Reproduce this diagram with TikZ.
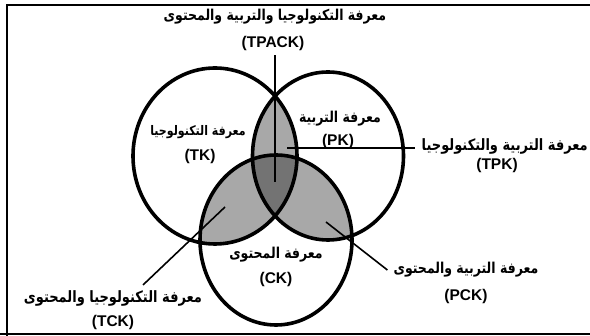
\documentclass[tikz,border=0pt]{standalone}
\usepackage{graphicx}
\usepackage{fontspec}
\setmainfont{Liberation Sans}
\newfontfamily\arabicfont[Script=Arabic]{DejaVu Sans}
\TeXXeTstate=1
\newcommand\artext[1]{\scalebox{1}[1.2]{\beginR #1\endR}}
\definecolor{lightshade}{RGB}{168,168,168}
\definecolor{darkshade}{RGB}{115,115,115}
\begin{document}
\begin{tikzpicture}[x=1pt,y=-1pt,
  ring/.style={line width=3.6pt},
  leader/.style={line width=2.3pt},
  thinleader/.style={line width=1.6pt},
  arlabel/.style={inner sep=0pt,font=\arabicfont\bfseries\fontsize{12.5}{14}\selectfont},
  latlabel/.style={inner sep=0pt,font=\bfseries\fontsize{15.5}{17}\selectfont}]
\useasboundingbox (0,0) rectangle (590,336);
\clip (0,0) rectangle (590,336);
\fill[white] (0,0) rectangle (590,336);
% frame
\draw[line width=2.6pt] (7,345) -- (7,5) -- (600,5);
\draw[line width=1.8pt] (0,334) -- (600,334);
% shading
\def\Lc{(215,156) ellipse [x radius=82pt, y radius=88pt]}
\def\Rc{(328,156) ellipse [x radius=75.5pt, y radius=84pt]}
\def\Bc{(276,240) ellipse [x radius=76pt, y radius=85pt]}
\begin{scope}\clip \Lc; \fill[lightshade] \Rc; \fill[lightshade] \Bc; \end{scope}
\begin{scope}\clip \Rc; \fill[lightshade] \Bc; \end{scope}
\begin{scope}\clip \Lc; \clip \Rc; \fill[darkshade] \Bc; \end{scope}
\draw[ring] \Lc;
\draw[ring] \Rc;
\draw[ring] \Bc;
% labels
\node[arlabel] (tpackA) at (275,17) {\artext{معرفة التكنولوجيا والتربية والمحتوى}};
\node[latlabel] (tpack) at (273,43) {(TPACK)};
\node[arlabel,font=\arabicfont\bfseries\fontsize{11}{12}\selectfont] (tkA) at (198,132) {\artext{معرفة التكنولوجيا}};
\node[latlabel] (tk) at (200,156) {(TK)};
\node[arlabel] (pkA) at (340,119) {\artext{معرفة التربية}};
\node[latlabel] (pk) at (338,141) {(PK)};
\node[arlabel,anchor=east,font=\arabicfont\bfseries\fontsize{13}{15}\selectfont] (tpkA) at (588,146) {\artext{معرفة التربية والتكنولوجيا}};
\node[latlabel] (tpk) at (497,165) {(TPK)};
\node[arlabel] (ckA) at (276,255) {\artext{معرفة المحتوى}};
\node[latlabel] (ck) at (276,279) {(CK)};
\node[arlabel] (pckA) at (466,270) {\artext{معرفة التربية والمحتوى}};
\node[latlabel] (pck) at (466,296) {(PCK)};
\node[arlabel,font=\arabicfont\bfseries\fontsize{13}{15}\selectfont] (tckA) at (113,298) {\artext{معرفة التكنولوجيا والمحتوى}};
\node[latlabel] (tck) at (113,322) {(TCK)};
% leaders
\coordinate (tpackEnd) at (275,182);
\coordinate (tpkEnd) at (287,148);
\coordinate (tckEnd) at (225,207);
\coordinate (pckEnd) at (326,222);
\draw[leader] (tpackEnd) -- ([yshift=-5pt]tpackEnd |- tpack.south);
\draw[leader] (tpkEnd) -- ([xshift=-7pt]tpkA.west |- tpkEnd);
\draw[thinleader] (tckEnd) -- ([xshift=30pt,yshift=5pt]tckA.north);
\draw[thinleader] (pckEnd) -- ([xshift=-6pt]pckA.west);
\end{tikzpicture}
\end{document}
